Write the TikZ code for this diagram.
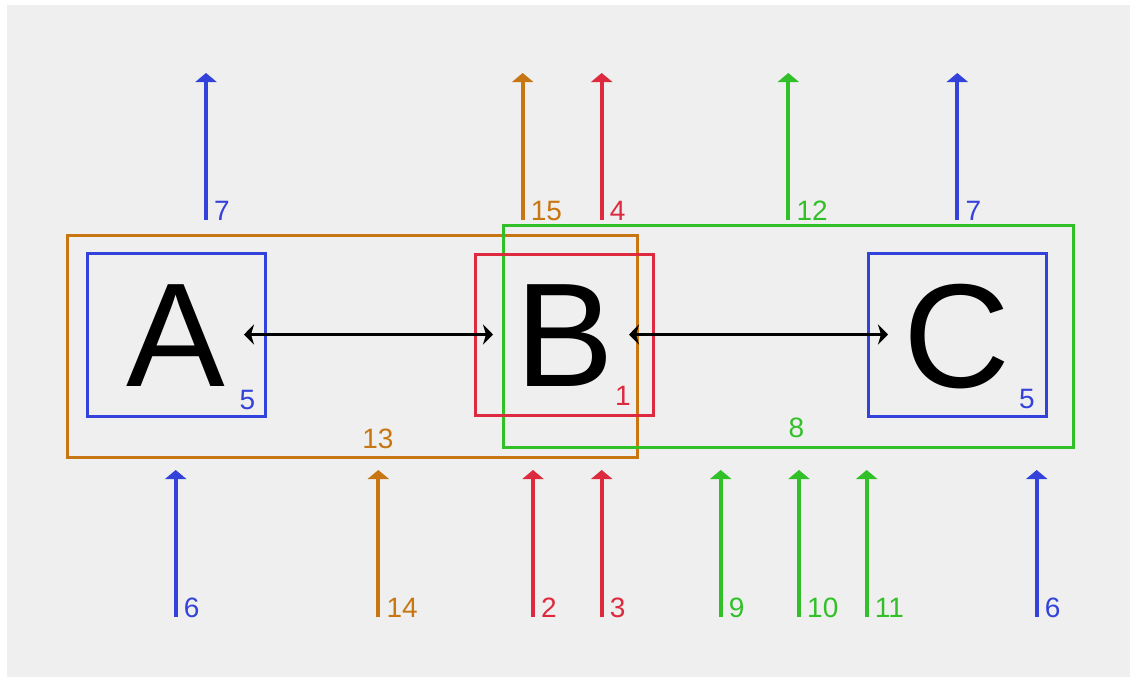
\documentclass[tikz,border=0pt]{standalone}
\usepackage{fontspec}
\setmainfont{Liberation Sans}
\usetikzlibrary{arrows.meta}
\definecolor{cblue}{RGB}{51,66,218}
\definecolor{cred}{RGB}{221,42,62}
\definecolor{corange}{RGB}{200,118,18}
\definecolor{cgreen}{RGB}{50,192,40}
\definecolor{bg}{RGB}{239,239,239}
\begin{document}
\begin{tikzpicture}[x=1pt,y=-1pt,
  box/.style={draw=#1, line width=3pt, inner sep=0pt, minimum width=178pt, minimum height=162pt},
  group/.style={draw=#1, line width=3pt, inner sep=0pt, minimum width=570pt, minimum height=222pt},
  letter/.style={font=\fontsize{148}{148}\selectfont, inner sep=0pt, text=black},
  num/.style={font=\fontsize{28}{28}\selectfont, inner sep=0pt, text=#1},
  flow/.style={draw=#1, line width=4pt, -{Triangle[width=21pt,length=9pt]}},
  link/.style={draw=black, line width=3.2pt, {Stealth[width=20pt,length=10pt,inset=3pt]}-{Stealth[width=20pt,length=10pt,inset=3pt]}}
]
\fill[white] (0,0) rectangle (1136,681);
\fill[bg] (7,5) rectangle (1130,677);
\useasboundingbox (0,0) rectangle (1136,681);

% group boxes
\node[group=corange, minimum height=222pt] (G13) at (352,346) {};
\node[group=cgreen, minimum height=222pt] (G8) at (788,336.75) {};
\node[num=corange, anchor=base] (L13) at (378,448) {13};
\node[num=cgreen, anchor=base] (L8) at (796.5,437.5) {8};

% element boxes
\node[box=cblue, minimum height=163pt] (A) at (176,334.5) {};
\node[box=cred, minimum height=161pt] (B) at (564,334.5) {};
\node[box=cblue, minimum height=163pt] (C) at (957,334.5) {};
\node[letter] (tA) at (176,336) {A};
\node[letter] (tB) at (565,336) {B};
\node[letter] (tC) at (956.5,336.5) {C};
\node[num=cblue, anchor=base east] (L5a) at (255.5,409) {5};
\node[num=cred, anchor=base east] (L1) at (631,405) {1};
\node[num=cblue, anchor=base east] (L5c) at (1035,408) {5};

% links
\coordinate (ab1) at (244,334.5);
\coordinate (ab2) at (493,334.5);
\coordinate (bc1) at (629,334.5);
\coordinate (bc2) at (888,334.5);
\draw[link] (ab1) -- (ab2);
\draw[link] (bc1) -- (bc2);

% top arrows
\foreach \x/\c/\t/\n in {206/cblue/7/ta, 522.7/corange/15/tb, 601.7/cred/4/tc, 788.3/cgreen/12/td, 957.3/cblue/7/te}{
  \coordinate (\n s) at (\x,220);
  \coordinate (\n e) at (\x,73);
  \draw[flow=\c] (\n s) -- (\n e);
  \node[num=\c, anchor=base west] (\n l) at ([xshift=8pt]\n s) {\t};
}
% bottom arrows
\foreach \x/\c/\t/\n in {175.7/cblue/6/ba, 378.3/corange/14/bb, 533/cred/2/bc, 601.7/cred/3/bd, 720.7/cgreen/9/be, 799/cgreen/10/bf, 866.7/cgreen/11/bg, 1036.7/cblue/6/bh}{
  \coordinate (\n s) at (\x,617);
  \coordinate (\n e) at (\x,470);
  \draw[flow=\c] (\n s) -- (\n e);
  \node[num=\c, anchor=base west] (\n l) at ([xshift=8pt]\n s) {\t};
}
\end{tikzpicture}
\end{document}
